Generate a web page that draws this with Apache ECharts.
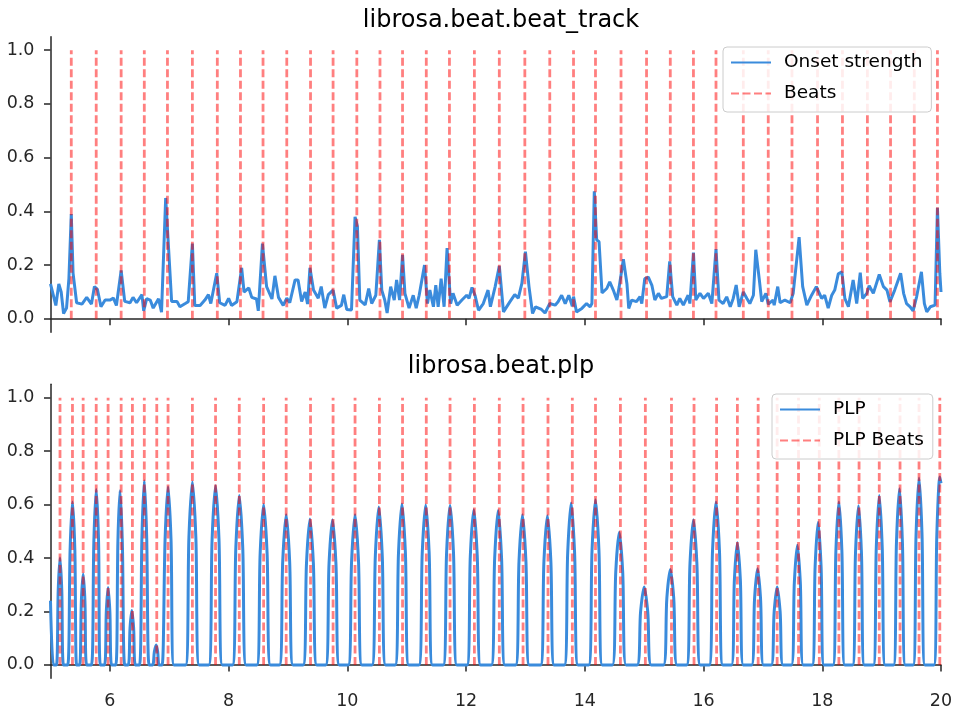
<!DOCTYPE html>
<html>
<head>
<meta charset="utf-8">
<title>librosa beat tracking</title>
<script src="https://cdn.jsdelivr.net/npm/echarts@6/dist/echarts.min.js"></script>
<style>
  html, body { margin: 0; padding: 0; background: #fff; }
  #main { width: 960px; height: 720px; }
</style>
</head>
<body>
<div id="main"></div>
<script>
// onset strength envelope, [time (s), value]
var onsetCurve = [
  [5.00,0.13],[5.09,0.05],[5.14,0.13],[5.18,0.10],[5.22,0.02],[5.27,0.04],[5.31,0.15],[5.35,0.39],[5.38,0.17],[5.44,0.06],
  [5.53,0.055],[5.61,0.08],[5.69,0.055],[5.74,0.12],[5.79,0.11],[5.85,0.045],[5.92,0.07],[6.00,0.07],[6.06,0.077],[6.11,0.05],
  [6.19,0.18],[6.25,0.065],[6.34,0.06],[6.39,0.08],[6.45,0.06],[6.54,0.09],[6.57,0.03],[6.62,0.075],[6.68,0.07],[6.73,0.04],
  [6.82,0.075],[6.87,0.025],[6.94,0.45],[7.00,0.22],[7.04,0.065],[7.13,0.065],[7.18,0.045],[7.27,0.057],[7.32,0.064],[7.39,0.28],
  [7.43,0.05],[7.52,0.05],[7.60,0.07],[7.66,0.09],[7.70,0.057],[7.80,0.17],[7.85,0.06],[7.94,0.05],[8.00,0.076],[8.05,0.05],
  [8.14,0.064],[8.22,0.19],[8.26,0.10],[8.34,0.115],[8.39,0.08],[8.47,0.074],[8.50,0.03],[8.57,0.28],[8.64,0.12],[8.73,0.074],
  [8.78,0.16],[8.84,0.08],[8.92,0.05],[8.98,0.077],[9.03,0.06],[9.12,0.145],[9.17,0.145],[9.23,0.065],[9.29,0.10],[9.33,0.055],
  [9.37,0.19],[9.43,0.107],[9.51,0.077],[9.56,0.12],[9.62,0.04],[9.68,0.09],[9.76,0.107],[9.82,0.04],[9.90,0.05],[9.94,0.09],
  [9.99,0.035],[10.07,0.033],[10.13,0.38],[10.17,0.344],[10.21,0.07],[10.30,0.052],[10.36,0.113],[10.41,0.057],[10.48,0.088],[10.54,0.294],
  [10.58,0.107],[10.63,0.07],[10.67,0.022],[10.73,0.12],[10.79,0.07],[10.83,0.145],[10.88,0.07],[10.93,0.238],[10.97,0.095],[11.04,0.04],
  [11.11,0.088],[11.16,0.04],[11.21,0.088],[11.30,0.20],[11.35,0.057],[11.39,0.107],[11.45,0.045],[11.49,0.125],[11.53,0.045],[11.58,0.15],
  [11.63,0.045],[11.68,0.263],[11.74,0.057],[11.78,0.095],[11.85,0.051],[11.93,0.07],[12.01,0.088],[12.05,0.076],[12.10,0.117],[12.15,0.088],
  [12.21,0.032],[12.29,0.057],[12.37,0.107],[12.41,0.045],[12.49,0.12],[12.56,0.197],[12.63,0.026],[12.74,0.064],[12.82,0.09],[12.88,0.077],
  [12.94,0.132],[13.00,0.25],[13.06,0.12],[13.12,0.02],[13.17,0.045],[13.27,0.035],[13.33,0.022],[13.41,0.057],[13.50,0.051],[13.55,0.064],
  [13.61,0.088],[13.67,0.057],[13.73,0.088],[13.79,0.047],[13.81,0.083],[13.86,0.026],[13.95,0.039],[14.03,0.057],[14.09,0.045],[14.12,0.057],
  [14.16,0.475],[14.20,0.294],[14.24,0.287],[14.29,0.097],[14.37,0.113],[14.42,0.138],[14.48,0.107],[14.54,0.07],[14.58,0.12],[14.65,0.222],
  [14.71,0.13],[14.74,0.039],[14.79,0.07],[14.87,0.064],[14.93,0.083],[14.96,0.057],[15.01,0.15],[15.07,0.155],[15.13,0.125],[15.18,0.07],
  [15.24,0.095],[15.29,0.076],[15.38,0.083],[15.43,0.214],[15.48,0.083],[15.55,0.051],[15.60,0.076],[15.66,0.051],[15.74,0.088],[15.77,0.057],
  [15.83,0.247],[15.87,0.07],[15.94,0.095],[16.00,0.076],[16.08,0.095],[16.14,0.057],[16.21,0.26],[16.26,0.07],[16.33,0.057],[16.39,0.082],
  [16.45,0.045],[16.50,0.076],[16.55,0.126],[16.60,0.045],[16.67,0.10],[16.73,0.076],[16.78,0.057],[16.84,0.088],[16.88,0.257],[16.94,0.145],
  [16.98,0.064],[17.05,0.095],[17.09,0.055],[17.17,0.07],[17.19,0.051],[17.25,0.12],[17.29,0.06],[17.37,0.07],[17.46,0.06],[17.51,0.095],
  [17.61,0.304],[17.67,0.12],[17.74,0.051],[17.82,0.088],[17.90,0.12],[17.99,0.076],[18.04,0.088],[18.10,0.04],[18.16,0.088],[18.21,0.107],
  [18.27,0.168],[18.33,0.175],[18.38,0.076],[18.44,0.045],[18.52,0.145],[18.58,0.057],[18.64,0.172],[18.68,0.076],[18.75,0.095],[18.79,0.123],
  [18.86,0.095],[18.96,0.165],[19.03,0.12],[19.09,0.107],[19.14,0.063],[19.22,0.107],[19.32,0.17],[19.37,0.095],[19.42,0.057],[19.48,0.045],
  [19.53,0.03],[19.59,0.083],[19.67,0.175],[19.72,0.057],[19.76,0.026],[19.82,0.045],[19.90,0.051],[19.94,0.413],[19.98,0.17],[20.00,0.10]
];

// beat_track beat times (s)
var beatTimes = [5.35,5.77,6.19,6.58,6.97,7.39,7.81,8.20,8.58,8.98,9.38,9.76,10.16,10.55,10.93,11.33,11.72,12.14,12.56,
  12.99,13.41,13.81,14.18,14.61,15.04,15.44,15.83,16.21,16.67,17.09,17.49,17.92,18.34,18.76,19.15,19.55,19.94];

// PLP pulse curve, [time (s), value]
// each pulse: foot, shoulder, peak, shoulder, foot
var plpCurve = [
  [5.00,0.24],[5.05,0],
  [5.10,0],[5.13,0.28],[5.16,0.40],[5.19,0.28],[5.22,0],
  [5.29,0],[5.33,0.43],[5.37,0.61],[5.41,0.43],[5.44,0],
  [5.49,0],[5.52,0.24],[5.55,0.34],[5.58,0.24],[5.61,0],
  [5.69,0],[5.73,0.46],[5.77,0.656],[5.81,0.46],[5.84,0],
  [5.91,0],[5.94,0.20],[5.97,0.29],[6.00,0.20],[6.03,0],
  [6.10,0],[6.135,0.46],[6.17,0.652],[6.21,0.46],[6.25,0],
  [6.31,0],[6.34,0.14],[6.37,0.204],[6.40,0.14],[6.43,0],
  [6.50,0],[6.54,0.48],[6.58,0.689],[6.62,0.48],[6.66,0],
  [6.72,0],[6.75,0.05],[6.78,0.075],[6.805,0.05],[6.83,0],
  [6.88,0],[6.93,0.47],[6.98,0.666],[7.03,0.47],[7.08,0],
  [7.275,0],[7.332,0.48],[7.39,0.684],[7.448,0.48],[7.505,0],
  [7.665,0],[7.722,0.47],[7.78,0.67],[7.838,0.47],[7.895,0],
  [8.065,0],[8.122,0.44],[8.18,0.634],[8.238,0.44],[8.295,0],
  [8.475,0],[8.532,0.42],[8.59,0.60],[8.648,0.42],[8.705,0],
  [8.855,0],[8.912,0.39],[8.97,0.562],[9.028,0.39],[9.085,0],
  [9.255,0],[9.312,0.38],[9.37,0.546],[9.428,0.38],[9.485,0],
  [9.635,0],[9.692,0.38],[9.75,0.543],[9.808,0.38],[9.865,0],
  [10.015,0],[10.072,0.39],[10.13,0.562],[10.188,0.39],[10.245,0],
  [10.415,0],[10.472,0.41],[10.53,0.591],[10.588,0.41],[10.645,0],
  [10.805,0],[10.862,0.42],[10.92,0.602],[10.978,0.42],[11.035,0],
  [11.205,0],[11.262,0.42],[11.32,0.598],[11.378,0.42],[11.435,0],
  [11.615,0],[11.672,0.42],[11.73,0.597],[11.788,0.42],[11.845,0],
  [12.015,0],[12.072,0.41],[12.13,0.581],[12.188,0.41],[12.245,0],
  [12.425,0],[12.482,0.40],[12.54,0.578],[12.598,0.40],[12.655,0],
  [12.835,0],[12.892,0.39],[12.95,0.562],[13.008,0.39],[13.065,0],
  [13.255,0],[13.312,0.39],[13.37,0.558],[13.428,0.39],[13.485,0],
  [13.655,0],[13.712,0.42],[13.77,0.606],[13.828,0.42],[13.885,0],
  [14.065,0],[14.122,0.43],[14.18,0.618],[14.238,0.43],[14.295,0],
  [14.465,0],[14.522,0.35],[14.58,0.496],[14.638,0.35],[14.695,0],
  [14.88,0],[14.94,0.20],[15.00,0.292],[15.06,0.20],[15.12,0],
  [15.325,0],[15.382,0.25],[15.44,0.357],[15.498,0.25],[15.555,0],
  [15.715,0],[15.772,0.38],[15.83,0.543],[15.888,0.38],[15.945,0],
  [16.095,0],[16.152,0.43],[16.21,0.61],[16.268,0.43],[16.325,0],
  [16.47,0],[16.52,0.32],[16.57,0.457],[16.62,0.32],[16.67,0],
  [16.81,0],[16.86,0.25],[16.91,0.36],[16.96,0.25],[17.01,0],
  [17.14,0],[17.19,0.20],[17.24,0.292],[17.29,0.20],[17.34,0],
  [17.48,0],[17.53,0.31],[17.58,0.448],[17.63,0.31],[17.68,0],
  [17.83,0],[17.88,0.37],[17.93,0.534],[17.98,0.37],[18.03,0],
  [18.18,0],[18.23,0.43],[18.28,0.61],[18.33,0.43],[18.38,0],
  [18.51,0],[18.56,0.42],[18.61,0.596],[18.66,0.42],[18.71,0],
  [18.86,0],[18.91,0.44],[18.96,0.634],[19.01,0.44],[19.06,0],
  [19.20,0],[19.25,0.46],[19.30,0.659],[19.35,0.46],[19.40,0],
  [19.53,0],[19.58,0.49],[19.63,0.699],[19.68,0.49],[19.73,0],
  [19.88,0],[19.93,0.49],[19.98,0.703],[20.00,0.68]
];

// plp beat times (s)
var plpBeatTimes = [5.16,5.37,5.55,5.77,5.97,6.19,6.38,6.58,6.79,6.98,7.39,7.78,8.18,8.59,8.97,9.38,9.76,10.13,10.54,
  10.93,11.33,11.73,12.14,12.56,12.96,13.38,13.79,14.18,14.60,15.02,15.46,15.84,16.22,16.57,16.92,17.24,17.60,17.95,
  18.28,18.62,18.96,19.31,19.63,19.98];

var xTicks = [6, 8, 10, 12, 14, 16, 18, 20];
var yTicks = [0, 0.2, 0.4, 0.6, 0.8, 1.0];

// vertical lines from 0 to 1, broken between beats
function vlines(times) {
  var out = [];
  for (var i = 0; i < times.length; i++) {
    out.push([times[i], 0]);
    out.push([times[i], 1]);
    out.push([times[i], '-']);
  }
  return out;
}

var FONT = 'DejaVu Sans';
var INK = '#262626';
var BLUE = '#3a8bdc';
var RED = 'rgba(255,0,0,0.5)';

function xAxisCfg(idx, showLabels) {
  return {
    type: 'value', gridIndex: idx, min: 5, max: 20,
    splitLine: { show: false },
    axisLine: { lineStyle: { color: INK, width: 1.5 } },
    axisTick: { length: 6.5, lineStyle: { color: INK, width: 1.5 }, customValues: xTicks },
    axisLabel: { show: showLabels, customValues: xTicks, color: INK, fontSize: 17.5, fontFamily: FONT, margin: 14 }
  };
}
function yAxisCfg(idx) {
  return {
    type: 'value', gridIndex: idx, min: -0.05, max: 1.05,
    splitLine: { show: false },
    axisLine: { show: true, lineStyle: { color: INK, width: 1.5 } },
    axisTick: { show: true, length: 6.5, lineStyle: { color: INK, width: 1.5 }, customValues: yTicks },
    axisLabel: {
      customValues: yTicks, color: INK, fontSize: 17.5, fontFamily: FONT, margin: 16,
      formatter: function (v) { return v.toFixed(1); }
    }
  };
}
function legendCfg(names, left, top) {
  return {
    data: names, orient: 'vertical', left: left, top: top,
    itemWidth: 40, itemHeight: 16, itemGap: 12,
    padding: [6, 9, 9, 7],
    backgroundColor: 'rgba(255,255,255,0.85)',
    borderColor: '#cccccc', borderWidth: 1, borderRadius: 4,
    itemStyle: { opacity: 0 },
    textStyle: { color: '#000', fontSize: 18.5, fontFamily: FONT, padding: [0, 0, 0, 8] }
  };
}

var myChart = echarts.init(document.getElementById('main'), null, { renderer: 'canvas' });

myChart.setOption({
  animation: false,
  backgroundColor: '#fff',
  title: [
    { text: 'librosa.beat.beat_track', left: 496, top: 4, textAlign: 'center',
      textStyle: { fontFamily: FONT, fontSize: 24, fontWeight: 'normal', color: '#000' } },
    { text: 'librosa.beat.plp', left: 496, top: 350, textAlign: 'center',
      textStyle: { fontFamily: FONT, fontSize: 24, fontWeight: 'normal', color: '#000' } }
  ],
  legend: [
    legendCfg(['Onset strength', 'Beats'], 723, 47),
    legendCfg(['PLP', 'PLP Beats'], 772, 394)
  ],
  grid: [
    { left: 50.5, right: 19, top: 36.7, height: 295.6, outerBoundsMode: 'none' },
    { left: 50.5, right: 19, top: 384.3, height: 294, outerBoundsMode: 'none' }
  ],
  xAxis: [xAxisCfg(0, false), xAxisCfg(1, true)],
  yAxis: [yAxisCfg(0), yAxisCfg(1)],
  series: [
    { name: 'Onset strength', type: 'line', xAxisIndex: 0, yAxisIndex: 0, data: onsetCurve,
      symbol: 'none', z: 2, lineStyle: { color: BLUE, width: 3 }, itemStyle: { color: BLUE } },
    { name: 'Beats', type: 'line', xAxisIndex: 0, yAxisIndex: 0, data: vlines(beatTimes),
      symbol: 'none', z: 3, connectNulls: false,
      lineStyle: { color: RED, width: 2.8, type: [8, 3.5] }, itemStyle: { color: RED } },
    { name: 'PLP', type: 'line', xAxisIndex: 1, yAxisIndex: 1, data: plpCurve,
      symbol: 'none', z: 2, smooth: 0.3,
      lineStyle: { color: BLUE, width: 3 }, itemStyle: { color: BLUE } },
    { name: 'PLP Beats', type: 'line', xAxisIndex: 1, yAxisIndex: 1, data: vlines(plpBeatTimes),
      symbol: 'none', z: 3, connectNulls: false,
      lineStyle: { color: RED, width: 2.8, type: [8, 3.5] }, itemStyle: { color: RED } }
  ]
});
</script>
</body>
</html>
